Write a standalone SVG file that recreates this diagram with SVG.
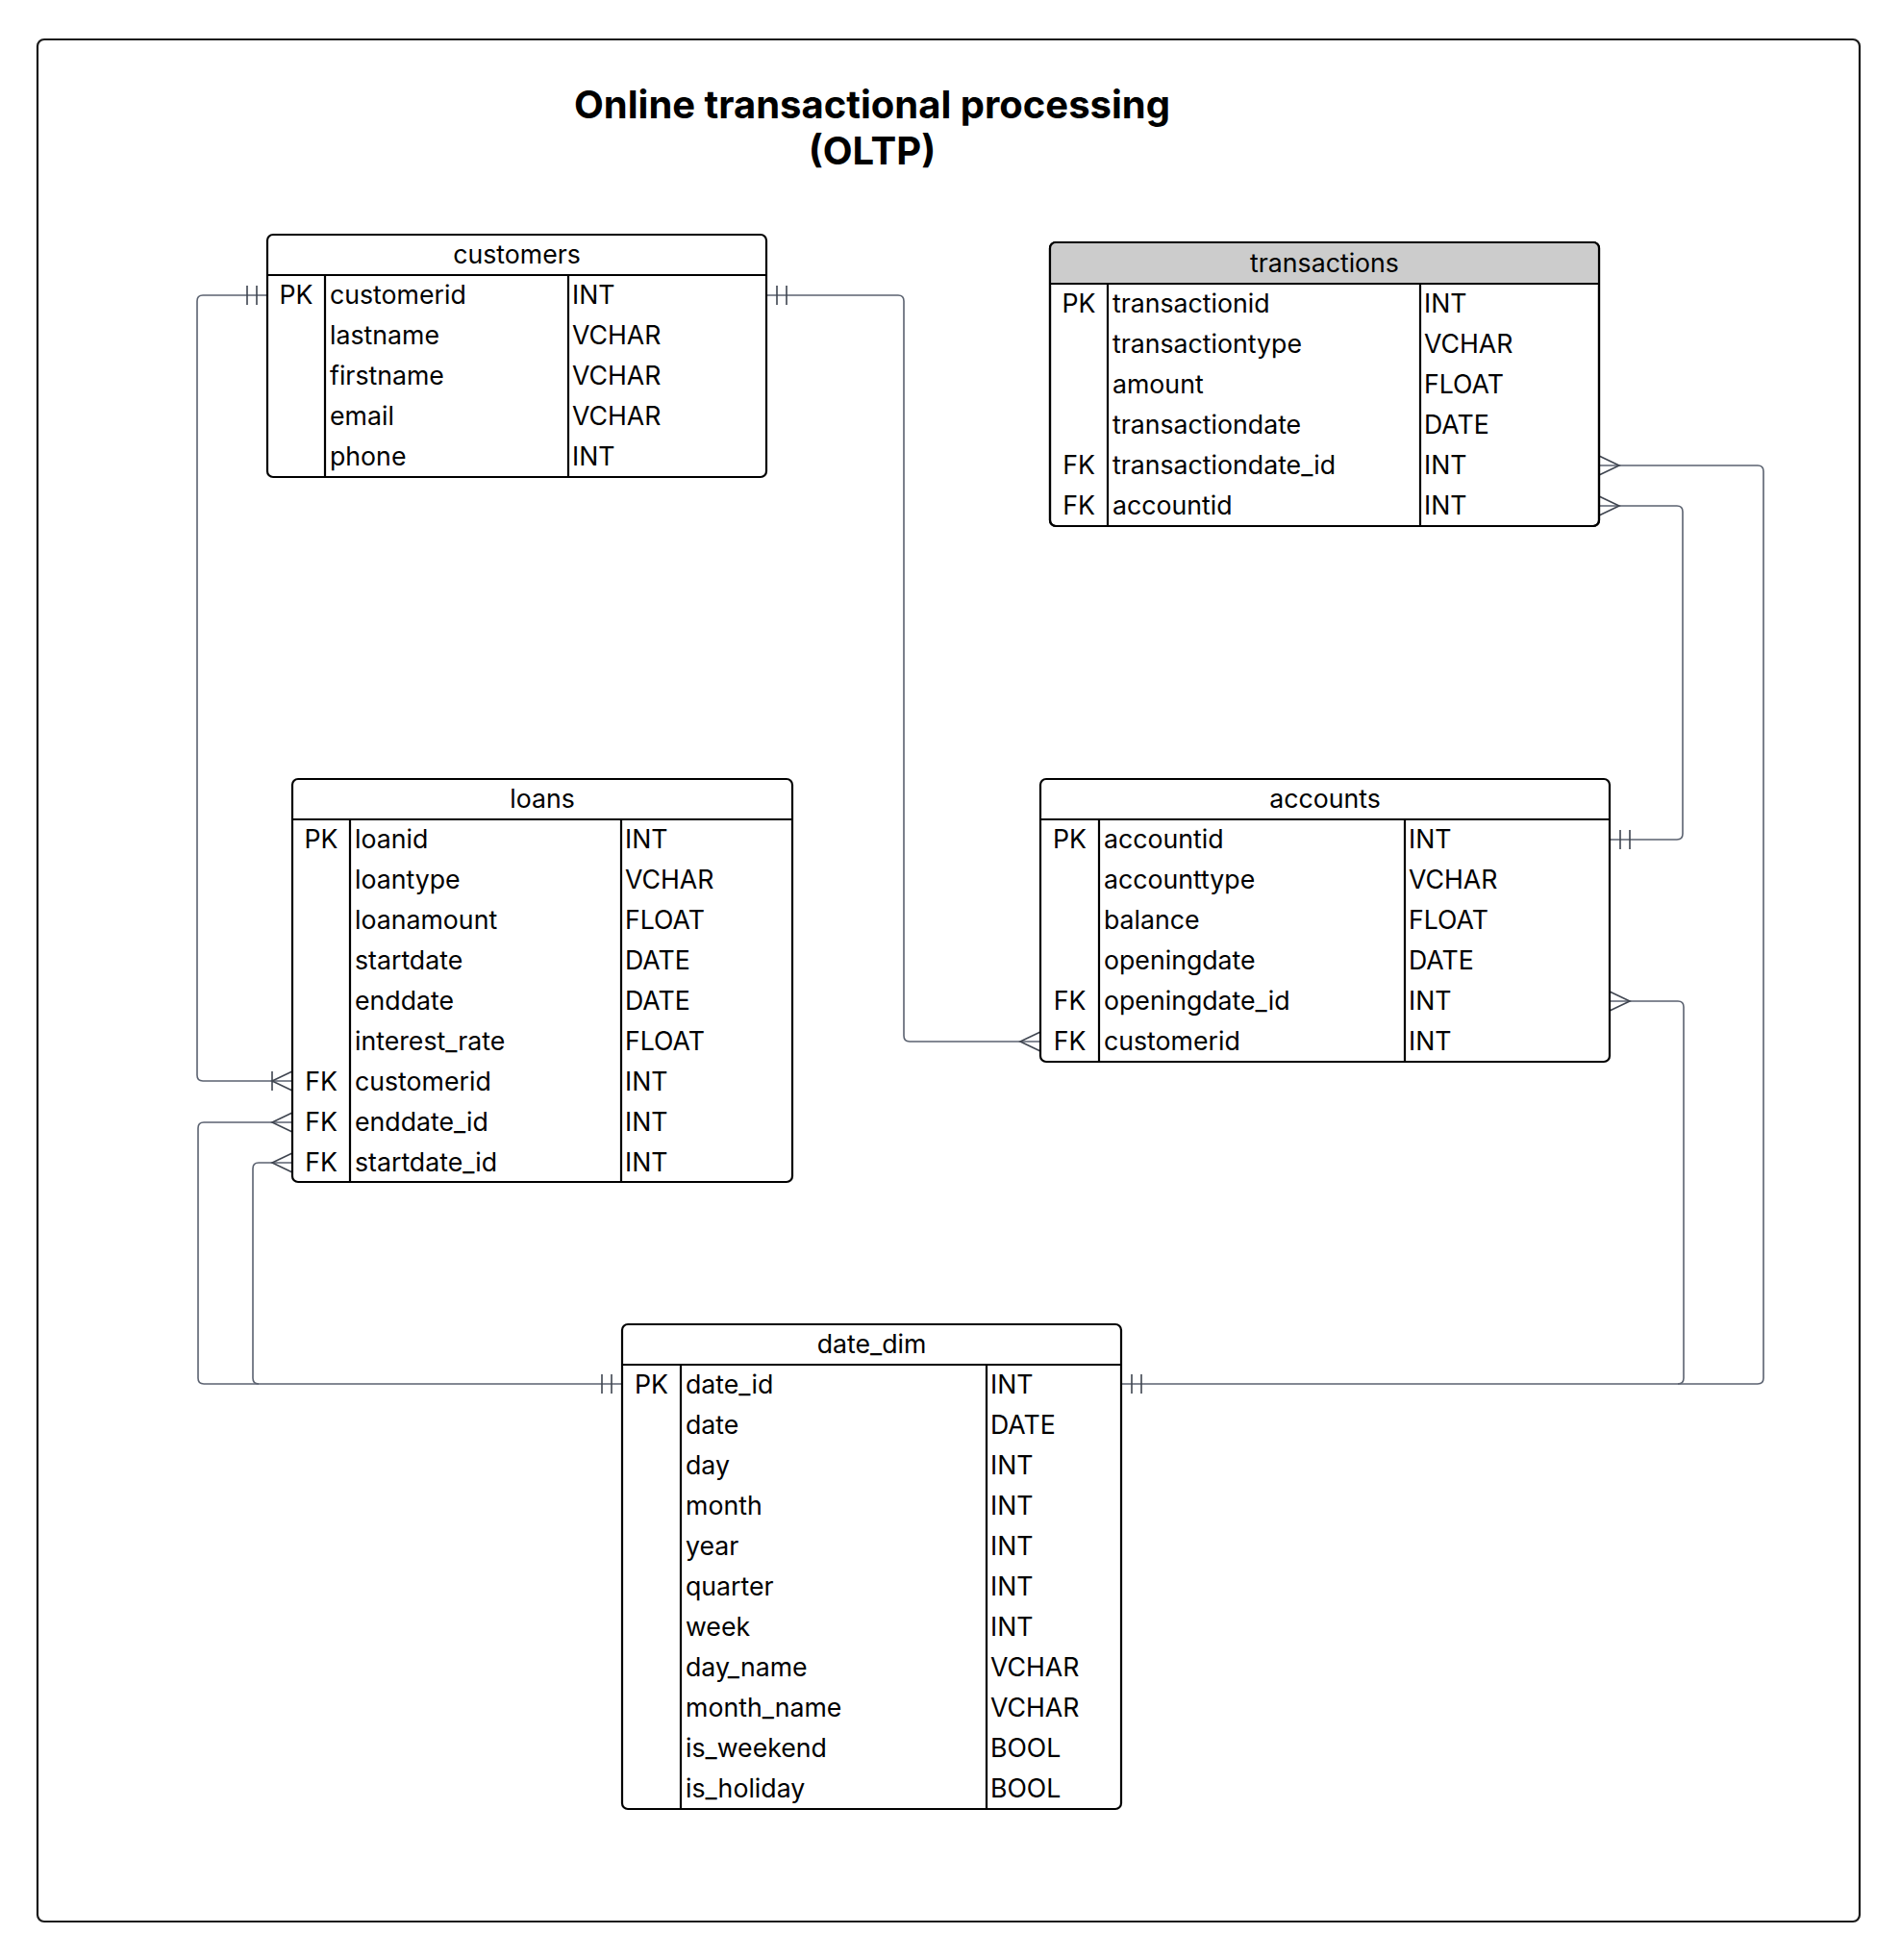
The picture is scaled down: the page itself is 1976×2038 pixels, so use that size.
<svg xmlns="http://www.w3.org/2000/svg" width="1976" height="2038" viewBox="0 0 1976 2038">
<style>
text{font-family:Inter,"Liberation Sans",sans-serif;fill:#000}
.t{font-size:26.7px}
.h{font-size:26.7px;text-anchor:middle}
.k{font-size:26.7px;text-anchor:middle}
.title{font-size:40px;font-weight:700;text-anchor:middle}
.box{fill:#fff;stroke:#000;stroke-width:2.2}
.ol{fill:none;stroke:#000;stroke-width:2.2}
.ln{stroke:#000;stroke-width:2.2;fill:none}
.c{fill:none;stroke:#5b6270;stroke-width:1.6}
.m{fill:none;stroke:#3f4550;stroke-width:1.6}
</style>
<rect x="39" y="41" width="1895" height="1957" rx="7" fill="#fff" stroke="#1a1a1a" stroke-width="2.2"/>
<g id="title">
<text class="title" x="907" y="123">Online transactional processing</text>
<text class="title" x="907" y="171">(OLTP)</text>
</g>
<g id="connectors">
<path class="c" d="M278,307 H211 Q205,307 205,313 V1118 Q205,1124 211,1124 H304"/>
<path class="c" d="M797,307 H934 Q940,307 940,313 V1077 Q940,1083 946,1083 H1082"/>
<path class="c" d="M1663,484 H1828 Q1834,484 1834,490 V1433 Q1834,1439 1828,1439 H1166"/>
<path class="c" d="M1663,526 H1744 Q1750,526 1750,532 V867 Q1750,873 1744,873 H1674"/>
<path class="c" d="M1674,1041 H1745 Q1751,1041 1751,1047 V1433 Q1751,1439 1745,1439"/>
<path class="c" d="M304,1167 H212 Q206,1167 206,1173 V1433 Q206,1439 212,1439 H647"/>
<path class="c" d="M304,1209 H269 Q263,1209 263,1215 V1433 Q263,1439 269,1439"/>
<path class="m" d="M267,297 V317 M257,297 V317"/>
<path class="m" d="M808,297 V317 M818,297 V317"/>
<path class="m" d="M304,1114 L283,1124 L304,1134 M283,1114 V1134"/>
<path class="m" d="M304,1157 L283,1167 L304,1177"/>
<path class="m" d="M304,1199 L283,1209 L304,1219"/>
<path class="m" d="M1082,1073 L1061,1083 L1082,1093"/>
<path class="m" d="M1663,474 L1684,484 L1663,494"/>
<path class="m" d="M1663,516 L1684,526 L1663,536"/>
<path class="m" d="M1685,863 V883 M1695,863 V883"/>
<path class="m" d="M1674,1031 L1695,1041 L1674,1051"/>
<path class="m" d="M1177,1429 V1449 M1187,1429 V1449"/>
<path class="m" d="M636,1429 V1449 M626,1429 V1449"/>
</g>
<g id="customers">
<rect class="box" x="278" y="244" width="519" height="252" rx="6"/>
<path class="ln" d="M278,286 H797 M338,286 V496 M591,286 V496"/>
<text class="h" x="537.5" y="274">customers</text>
<text class="k" x="308" y="316">PK</text>
<text class="t" x="343" y="316">customerid</text><text class="t" x="595" y="316">INT</text>
<text class="t" x="343" y="358">lastname</text><text class="t" x="595" y="358">VCHAR</text>
<text class="t" x="343" y="400">firstname</text><text class="t" x="595" y="400">VCHAR</text>
<text class="t" x="343" y="442">email</text><text class="t" x="595" y="442">VCHAR</text>
<text class="t" x="343" y="484">phone</text><text class="t" x="595" y="484">INT</text>
</g>
<g id="transactions">
<rect class="box" x="1092" y="252" width="571" height="295" rx="6"/>
<path d="M1092,295 V258 Q1092,252 1098,252 H1657 Q1663,252 1663,258 V295 Z" fill="#cccccc"/>
<rect class="ol" x="1092" y="252" width="571" height="295" rx="6"/>
<path class="ln" d="M1092,295 H1663 M1152,295 V547 M1477,295 V547"/>
<text class="h" x="1377.5" y="283">transactions</text>
<text class="k" x="1122" y="325">PK</text>
<text class="t" x="1157" y="325">transactionid</text><text class="t" x="1481" y="325">INT</text>
<text class="t" x="1157" y="367">transactiontype</text><text class="t" x="1481" y="367">VCHAR</text>
<text class="t" x="1157" y="409">amount</text><text class="t" x="1481" y="409">FLOAT</text>
<text class="t" x="1157" y="451">transactiondate</text><text class="t" x="1481" y="451">DATE</text>
<text class="k" x="1122" y="493">FK</text>
<text class="t" x="1157" y="493">transactiondate_id</text><text class="t" x="1481" y="493">INT</text>
<text class="k" x="1122" y="535">FK</text>
<text class="t" x="1157" y="535">accountid</text><text class="t" x="1481" y="535">INT</text>
</g>
<g id="loans">
<rect class="box" x="304" y="810" width="520" height="419" rx="6"/>
<path class="ln" d="M304,852 H824 M364,852 V1229 M646,852 V1229"/>
<text class="h" x="564" y="840">loans</text>
<text class="k" x="334" y="882">PK</text>
<text class="t" x="369" y="882">loanid</text><text class="t" x="650" y="882">INT</text>
<text class="t" x="369" y="924">loantype</text><text class="t" x="650" y="924">VCHAR</text>
<text class="t" x="369" y="966">loanamount</text><text class="t" x="650" y="966">FLOAT</text>
<text class="t" x="369" y="1008">startdate</text><text class="t" x="650" y="1008">DATE</text>
<text class="t" x="369" y="1050">enddate</text><text class="t" x="650" y="1050">DATE</text>
<text class="t" x="369" y="1092">interest_rate</text><text class="t" x="650" y="1092">FLOAT</text>
<text class="k" x="334" y="1134">FK</text>
<text class="t" x="369" y="1134">customerid</text><text class="t" x="650" y="1134">INT</text>
<text class="k" x="334" y="1176">FK</text>
<text class="t" x="369" y="1176">enddate_id</text><text class="t" x="650" y="1176">INT</text>
<text class="k" x="334" y="1218">FK</text>
<text class="t" x="369" y="1218">startdate_id</text><text class="t" x="650" y="1218">INT</text>
</g>
<g id="accounts">
<rect class="box" x="1082" y="810" width="592" height="294" rx="6"/>
<path class="ln" d="M1082,852 H1674 M1143,852 V1104 M1461,852 V1104"/>
<text class="h" x="1378" y="840">accounts</text>
<text class="k" x="1112.5" y="882">PK</text>
<text class="t" x="1148" y="882">accountid</text><text class="t" x="1465" y="882">INT</text>
<text class="t" x="1148" y="924">accounttype</text><text class="t" x="1465" y="924">VCHAR</text>
<text class="t" x="1148" y="966">balance</text><text class="t" x="1465" y="966">FLOAT</text>
<text class="t" x="1148" y="1008">openingdate</text><text class="t" x="1465" y="1008">DATE</text>
<text class="k" x="1112.5" y="1050">FK</text>
<text class="t" x="1148" y="1050">openingdate_id</text><text class="t" x="1465" y="1050">INT</text>
<text class="k" x="1112.5" y="1092">FK</text>
<text class="t" x="1148" y="1092">customerid</text><text class="t" x="1465" y="1092">INT</text>
</g>
<g id="date_dim">
<rect class="box" x="647" y="1377" width="519" height="504" rx="6"/>
<path class="ln" d="M647,1419 H1166 M708,1419 V1881 M1026,1419 V1881"/>
<text class="h" x="906.5" y="1407">date_dim</text>
<text class="k" x="677.5" y="1449">PK</text>
<text class="t" x="713" y="1449">date_id</text><text class="t" x="1030" y="1449">INT</text>
<text class="t" x="713" y="1491">date</text><text class="t" x="1030" y="1491">DATE</text>
<text class="t" x="713" y="1533">day</text><text class="t" x="1030" y="1533">INT</text>
<text class="t" x="713" y="1575">month</text><text class="t" x="1030" y="1575">INT</text>
<text class="t" x="713" y="1617">year</text><text class="t" x="1030" y="1617">INT</text>
<text class="t" x="713" y="1659">quarter</text><text class="t" x="1030" y="1659">INT</text>
<text class="t" x="713" y="1701">week</text><text class="t" x="1030" y="1701">INT</text>
<text class="t" x="713" y="1743">day_name</text><text class="t" x="1030" y="1743">VCHAR</text>
<text class="t" x="713" y="1785">month_name</text><text class="t" x="1030" y="1785">VCHAR</text>
<text class="t" x="713" y="1827">is_weekend</text><text class="t" x="1030" y="1827">BOOL</text>
<text class="t" x="713" y="1869">is_holiday</text><text class="t" x="1030" y="1869">BOOL</text>
</g>
</svg>
